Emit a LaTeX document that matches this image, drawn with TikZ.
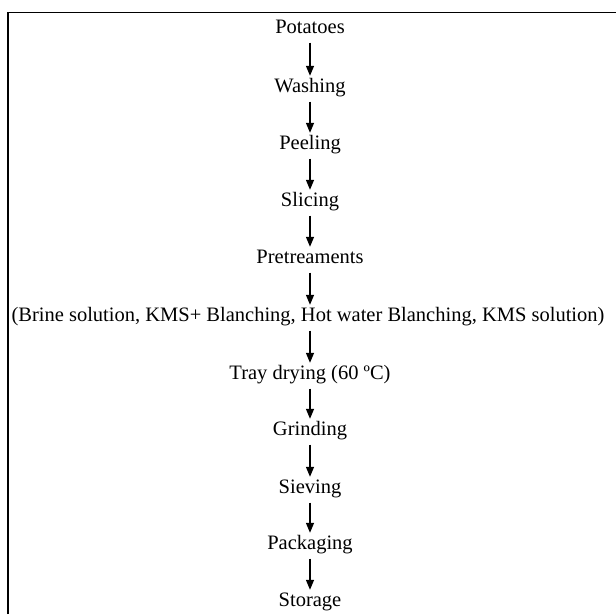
\documentclass[tikz,border=0pt]{standalone}
\usepackage{fontspec}
\setmainfont{Liberation Serif}
\usetikzlibrary{arrows.meta}
\begin{document}
\begin{tikzpicture}[x=1pt,y=-1pt,
  stepnode/.style={inner sep=0pt,anchor=base,text height=13pt,text depth=0pt,font=\fontsize{20.5}{24}\selectfont},
  flow/.style={line width=1.3pt,-{Triangle[length=10pt,width=8pt]},shorten <=9pt,shorten >=3.5pt}]
\useasboundingbox (0,0) rectangle (616,614);
\draw[line width=1.3pt] (8,614) -- (8,12.5) -- (616,12.5);
\node[stepnode] (n1) at (310,33.5) {Potatoes};
\node[stepnode] (n2) at (310,92.5) {Washing};
\node[stepnode] (n3) at (310,149.5) {Peeling};
\node[stepnode] (n4) at (310,206.5) {Slicing};
\node[stepnode] (n5) at (310,263.5) {Pretreaments};
\node[stepnode] (n6) at (308,321.5) {(Brine solution, KMS+ Blanching, Hot water Blanching, KMS solution)};
\node[stepnode] (n7) at (310,379.5) {Tray drying (60 ºC)};
\node[stepnode] (n8) at (310,435.5) {Grinding};
\node[stepnode] (n9) at (310,493.5) {Sieving};
\node[stepnode] (n10) at (310,549.5) {Packaging};
\node[stepnode] (n11) at (310,606.5) {Storage};
\foreach \a/\b in {n1/n2,n2/n3,n3/n4,n4/n5,n6/n7,n7/n8,n8/n9,n9/n10,n10/n11}
  \draw[flow] (\a.south -| 310,0) -- (\b.north -| 310,0);
\draw[flow] (n5.south -| 310,0) -- (n6.north -| 310,0);
\end{tikzpicture}
\end{document}
